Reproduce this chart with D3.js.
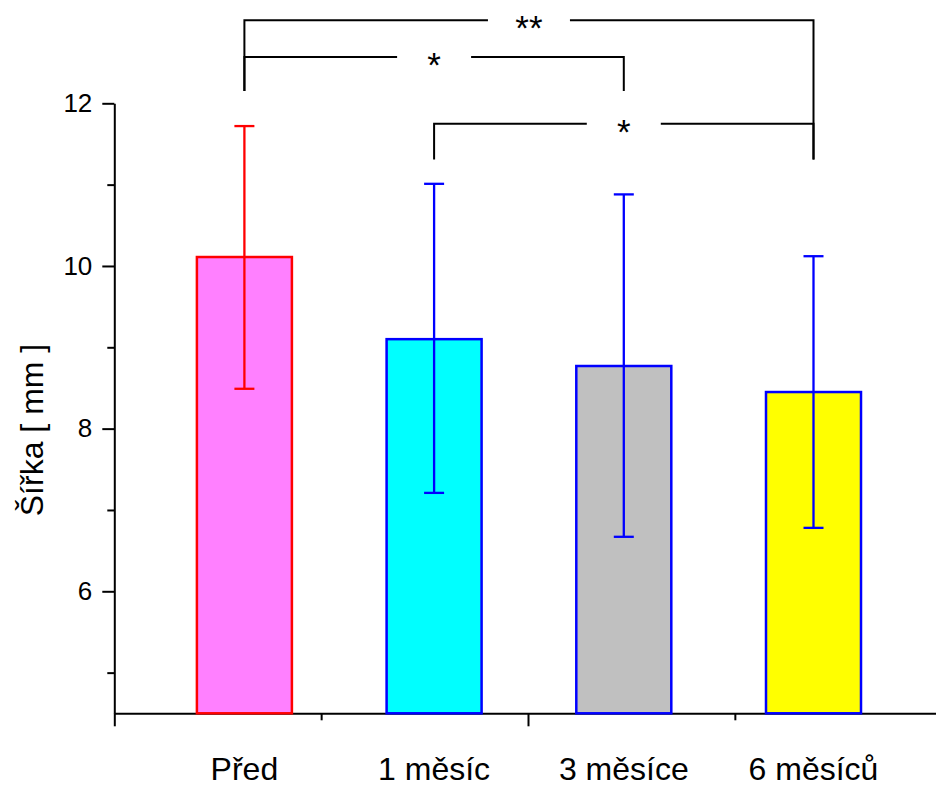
<!DOCTYPE html>
<html>
<head>
<meta charset="utf-8">
<script src="https://cdn.jsdelivr.net/npm/d3@7"></script>
<style>
  body { margin: 0; background: #fff; }
  svg { display: block; font-family: Arial, "Liberation Sans", sans-serif; }
</style>
</head>
<body>
<svg width="936" height="787"></svg>
<script>
// data
var categories = ["Před", "1 měsíc", "3 měsíce", "6 měsíců"];
var means = [10.11, 9.10, 8.77, 8.45];
var upper = [11.72, 11.01, 10.88, 10.12];
var lower = [8.49, 7.21, 6.67, 6.78];
var fills = ["#ff80ff", "#00ffff", "#c0c0c0", "#ffff00"];
var strokes = ["#ff0000", "#0000ff", "#0000ff", "#0000ff"];

var yMajor = [6, 8, 10, 12];
var yMinor = [5, 7, 9, 11];

// significance brackets: from bar i to bar j, level / leg ends in data units
var sigFrom = [0, 0, 1];
var sigTo = [3, 2, 3];
var sigLevel = [13.02, 12.57, 11.75];
var sigLegFrom = [12.15, 12.15, 11.31];
var sigLegTo = [11.31, 12.15, 11.31];
var sigLabel = ["**", "*", "*"];

var svg = d3.select("svg");

var y = d3.scaleLinear().domain([4.5, 12]).range([713.3, 103.3]);
var x = d3.scalePoint().domain(categories).range([244.4, 813.5]);
var xAxisScale = d3.scaleLinear().domain([0, 4]).range([114.3, 941.7]);
var barWidth = 95;

// axes
var yAxis = svg.append("g")
    .attr("transform", "translate(114.3,0)")
    .call(d3.axisLeft(y).tickValues(yMajor).tickSize(12).tickSizeOuter(0).tickPadding(10));
svg.append("g")
    .attr("transform", "translate(114.3,0)")
    .call(d3.axisLeft(y).tickValues(yMinor).tickSize(7).tickSizeOuter(0).tickFormat(""))
    .select(".domain").remove();

var xAxis = svg.append("g")
    .attr("transform", "translate(0,713.3)")
    .call(d3.axisBottom(xAxisScale).tickValues([0, 2]).tickSize(13).tickSizeOuter(0).tickFormat(""));
svg.append("g")
    .attr("transform", "translate(0,713.3)")
    .call(d3.axisBottom(xAxisScale).tickValues([1, 3]).tickSize(7).tickSizeOuter(0).tickFormat(""))
    .select(".domain").remove();

svg.selectAll(".domain").attr("stroke", "#000").attr("stroke-width", 2);
svg.selectAll(".tick line").attr("stroke", "#000").attr("stroke-width", 2);
yAxis.selectAll(".tick text")
    .attr("font-size", 26)
    .attr("fill", "#000")
    .attr("font-family", "Arial, 'Liberation Sans', sans-serif");

// bars
var idx = d3.range(categories.length);
svg.append("g").selectAll("rect")
    .data(idx)
    .enter()
    .append("rect")
    .attr("x", function(i) { return x(categories[i]) - barWidth / 2; })
    .attr("y", function(i) { return y(means[i]); })
    .attr("width", barWidth)
    .attr("height", function(i) { return y(4.5) - y(means[i]); })
    .attr("fill", function(i) { return fills[i]; })
    .attr("stroke", function(i) { return strokes[i]; })
    .attr("stroke-width", 2.5);

// error bars
var err = svg.append("g").selectAll("g")
    .data(idx)
    .enter()
    .append("g")
    .attr("stroke", function(i) { return strokes[i]; })
    .attr("stroke-width", 2.3);
err.append("line")
    .attr("x1", function(i) { return x(categories[i]); })
    .attr("x2", function(i) { return x(categories[i]); })
    .attr("y1", function(i) { return y(lower[i]); })
    .attr("y2", function(i) { return y(upper[i]); });
err.append("line")
    .attr("x1", function(i) { return x(categories[i]) - 10; })
    .attr("x2", function(i) { return x(categories[i]) + 10; })
    .attr("y1", function(i) { return y(upper[i]); })
    .attr("y2", function(i) { return y(upper[i]); });
err.append("line")
    .attr("x1", function(i) { return x(categories[i]) - 10; })
    .attr("x2", function(i) { return x(categories[i]) + 10; })
    .attr("y1", function(i) { return y(lower[i]); })
    .attr("y2", function(i) { return y(lower[i]); });

// category labels
svg.append("g").selectAll("text")
    .data(categories)
    .enter()
    .append("text")
    .attr("x", function(d) { return x(d); })
    .attr("y", 780)
    .attr("text-anchor", "middle")
    .attr("font-size", 32)
    .text(function(d) { return d; });

// y title
svg.append("text")
    .attr("transform", "translate(43,430) rotate(-90)")
    .attr("text-anchor", "middle")
    .attr("font-size", 32)
    .text("Šířka [ mm ]");

// significance brackets
var sig = svg.append("g").selectAll("g")
    .data(d3.range(sigLabel.length))
    .enter()
    .append("g");
sig.each(function(k) {
    var g = d3.select(this);
    var x1 = x(categories[sigFrom[k]]);
    var x2 = x(categories[sigTo[k]]);
    var ly = y(sigLevel[k]);
    var mid = (x1 + x2) / 2;
    var gap = sigLabel[k].length > 1 ? 41 : 37;
    var path = d3.path();
    path.moveTo(x1, y(sigLegFrom[k]));
    path.lineTo(x1, ly);
    path.lineTo(mid - gap, ly);
    path.moveTo(mid + gap, ly);
    path.lineTo(x2, ly);
    path.lineTo(x2, y(sigLegTo[k]));
    g.append("path")
        .attr("d", path.toString())
        .attr("fill", "none")
        .attr("stroke", "#000")
        .attr("stroke-width", 2);
    g.append("text")
        .attr("x", mid)
        .attr("y", ly + 20)
        .attr("text-anchor", "middle")
        .attr("font-size", 35)
        .text(sigLabel[k]);
});
</script>
</body>
</html>
